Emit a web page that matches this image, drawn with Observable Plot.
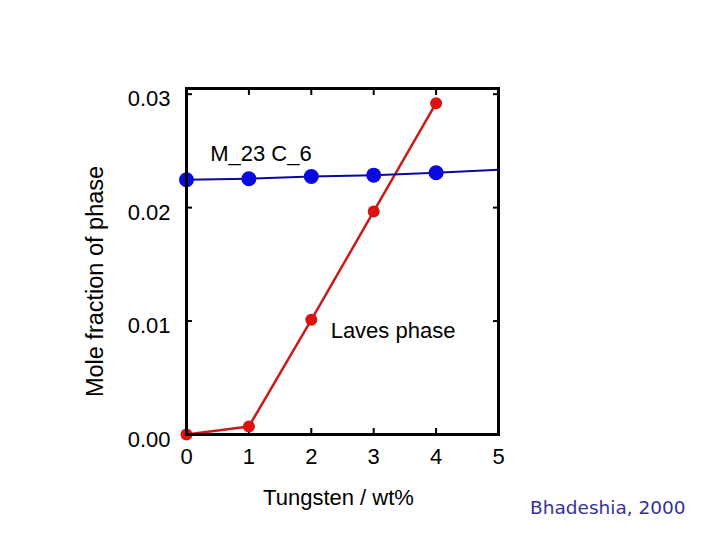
<!DOCTYPE html>
<html>
<head>
<meta charset="utf-8">
<script src="https://cdn.jsdelivr.net/npm/d3@7"></script>
<script src="https://cdn.jsdelivr.net/npm/@observablehq/plot@0.6"></script>
<style>
  html, body { margin: 0; padding: 0; background: #fff; }
  #chart { position: relative; width: 720px; height: 540px; }
  #credit { position: absolute; left: 530px; top: 497px; font: 18.5px "DejaVu Sans", sans-serif; color: #333399; }
</style>
</head>
<body>
<div id="chart"></div>
<script>
const tungsten = [0, 1, 2, 3, 4];
const m23c6Line = [0.02245, 0.02254, 0.02274, 0.02286, 0.02307, 0.02333];
const m23c6LineX = [0, 1, 2, 3, 4, 5];
const laves = [0.0000, 0.00071, 0.01011, 0.01966, 0.02921];
const xTicks = [0, 1, 2, 3, 4, 5];
const yTicks = [0.00, 0.01, 0.02, 0.03];
const yTickMarks = [0.01, 0.02, 0.03];
const labels = [
  {text: "M_23 C_6", x: 0.38, y: 0.02477},
  {text: "Laves phase", x: 2.31, y: 0.00917}
];

const blueLine = m23c6LineX.map((x, i) => ({x, y: m23c6Line[i]}));
const blueDots = tungsten.map((x, i) => ({x, y: m23c6Line[i]}));
const redData = tungsten.map((x, i) => ({x, y: laves[i]}));

const font = "Liberation Sans, Arial, sans-serif";

const plot = Plot.plot({
  width: 720,
  height: 540,
  marginLeft: 186,
  marginRight: 222,
  marginTop: 88,
  marginBottom: 106,
  style: {fontFamily: font, fontSize: "22px", background: "white", color: "black"},
  x: {domain: [0, 5]},
  y: {domain: [0, 0.0305]},
  marks: [
    // inward tick marks on all four sides
    Plot.axisX(xTicks.slice(1, 5), {anchor: "bottom", tickSize: 6, dy: -6, tickFormat: () => "", label: null, strokeWidth: 2}),
    Plot.axisX(xTicks.slice(1, 5), {anchor: "top", tickSize: 6, dy: 6, tickFormat: () => "", label: null, strokeWidth: 2}),
    Plot.axisY(yTickMarks, {anchor: "left", tickSize: 6, dx: 6, tickFormat: () => "", label: null, strokeWidth: 2}),
    Plot.axisY(yTickMarks, {anchor: "right", tickSize: 6, dx: -6, tickFormat: () => "", label: null, strokeWidth: 2}),
    // tick labels
    Plot.axisX(xTicks, {anchor: "bottom", tickSize: 0, tickPadding: 12, dy: 2, fontSize: 22, label: null}),
    Plot.text(["Tungsten / wt%"], {frameAnchor: "bottom", dx: -4, dy: 70, fontSize: 22, fill: "black"}),
    Plot.axisY(yTicks, {anchor: "left", tickSize: 0, tickPadding: 16, dy: 5, tickFormat: d3.format(".2f"), fontSize: 22, label: null}),
    // lines and markers
    Plot.line(redData, {x: "x", y: "y", stroke: "#cc1a1a", strokeWidth: 2.5}),
    Plot.dot(redData, {x: "x", y: "y", r: 6, fill: "#dd1111"}),
    Plot.line(blueLine, {x: "x", y: "y", stroke: "#0a0a9a", strokeWidth: 2}),
    Plot.dot(blueDots, {x: "x", y: "y", r: 7.5, fill: "#0a0adf"}),
    Plot.frame({stroke: "black", strokeWidth: 3}),
    Plot.text(labels, {x: "x", y: "y", text: "text", textAnchor: "start", fontSize: 22, fill: "black"}),
    Plot.text(["Mole fraction of phase"], {frameAnchor: "left", textAnchor: "middle", dx: -91, dy: 20, rotate: -90, fontSize: 23.5, fill: "black"})
  ]
});
document.getElementById("chart").appendChild(plot);
const credit = document.createElement("div");
credit.id = "credit";
credit.textContent = "Bhadeshia, 2000";
document.getElementById("chart").appendChild(credit);
</script>
</body>
</html>
